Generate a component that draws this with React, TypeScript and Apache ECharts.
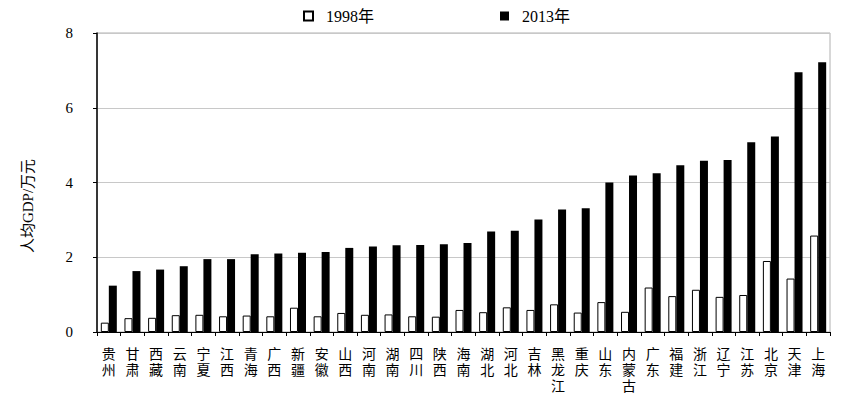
import React, { useEffect, useRef } from "react";
import * as echarts from "echarts";

const categories = [
  "贵州", "甘肃", "西藏", "云南", "宁夏", "江西", "青海", "广西", "新疆", "安徽",
  "山西", "河南", "湖南", "四川", "陕西", "海南", "湖北", "河北", "吉林", "黑龙江",
  "重庆", "山东", "内蒙古", "广东", "福建", "浙江", "辽宁", "江苏", "北京", "天津", "上海",
];
const values1998 = [
  0.25, 0.37, 0.38, 0.45, 0.46, 0.42, 0.44, 0.42, 0.65, 0.42,
  0.51, 0.46, 0.47, 0.42, 0.41, 0.59, 0.53, 0.66, 0.59, 0.74,
  0.52, 0.80, 0.54, 1.19, 0.96, 1.13, 0.94, 0.99, 1.90, 1.43, 2.58,
];
const values2013 = [
  1.24, 1.63, 1.67, 1.76, 1.95, 1.95, 2.08, 2.10, 2.12, 2.14,
  2.25, 2.29, 2.32, 2.33, 2.35, 2.38, 2.69, 2.71, 3.01, 3.28,
  3.31, 4.00, 4.19, 4.25, 4.46, 4.58, 4.60, 5.08, 5.23, 6.95, 7.22,
];
const seriesNames = ["1998年", "2013年"];
const yAxisTitle = "人均GDP/万元";

const FONT = "'Liberation Serif', 'Noto Sans CJK SC', serif";

export default function App() {
  const ref = useRef<HTMLDivElement>(null);
  useEffect(() => {
    if (!ref.current) return;
    const chart = echarts.init(ref.current, null, { renderer: "svg" });
    chart.setOption({
      animation: false,
      backgroundColor: "#fff",
      textStyle: { fontFamily: FONT, color: "#000" },
      legend: {
        left: 298,
        top: 3,
        itemWidth: 9,
        itemHeight: 9,
        itemGap: 126,
        icon: "rect",
        formatter: (n: string) => "  " + n,
        textStyle: { fontFamily: FONT, fontSize: 16, color: "#000" },
        data: seriesNames,
      },
      grid: {
        left: 97,
        right: 12,
        top: 33,
        bottom: 66,
        show: true,
        borderColor: "#b0b0b0",
        borderWidth: 1,
      },
      graphic: [
        {
          type: "text",
          x: 28,
          y: 206,
          rotation: Math.PI / 2,
          style: {
            text: yAxisTitle,
            font: `15px ${FONT}`,
            fill: "#000",
            textAlign: "center",
            textVerticalAlign: "middle",
          },
        },
      ],
      xAxis: {
        type: "category",
        data: categories,
        axisLine: { lineStyle: { color: "#000", width: 1 } },
        axisTick: { show: true, length: 4, lineStyle: { color: "#000" } },
        axisLabel: {
          interval: 0,
          margin: 14,
          fontSize: 14,
          lineHeight: 16,
          color: "#000",
          fontFamily: FONT,
          formatter: (v: string) => v.split("").join("\n"),
        },
      },
      yAxis: {
        type: "value",
        min: 0,
        max: 8,
        interval: 2,
        axisLine: { show: true, lineStyle: { color: "#000", width: 1.5 } },
        axisTick: { show: true, length: 4, lineStyle: { color: "#000" } },
        axisLabel: { margin: 24, fontSize: 15, color: "#000", fontFamily: FONT },
        splitLine: { show: true, lineStyle: { color: "#c8c8c8", width: 1 } },
      },
      series: [
        {
          name: seriesNames[0],
          type: "bar",
          data: values1998,
          barWidth: 8,
          barGap: "0%",
          itemStyle: { color: "#fff", borderColor: "#000", borderWidth: 1 },
        },
        {
          name: seriesNames[1],
          type: "bar",
          data: values2013,
          barWidth: 8,
          itemStyle: { color: "#000" },
        },
      ],
    });
    return () => chart.dispose();
  }, []);
  return (
    <div
      ref={ref}
      style={{ position: "absolute", left: 0, top: 0, width: 842, height: 398 }}
    />
  );
}
